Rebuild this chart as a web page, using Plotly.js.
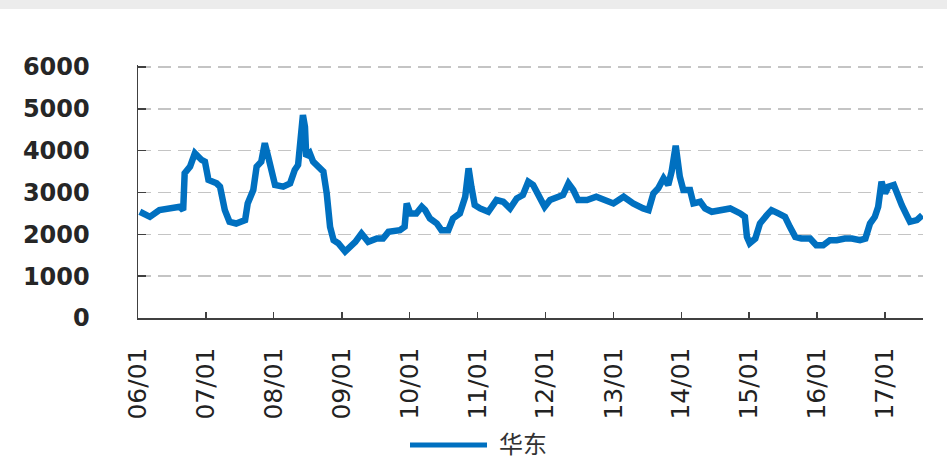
<!DOCTYPE html>
<html>
<head>
<meta charset="utf-8">
<script src="https://cdn.plot.ly/plotly-3.0.1.min.js"></script>
<style>
html,body{margin:0;padding:0;background:#fff;}
#chart{width:947px;height:460px;}
</style>
</head>
<body>
<div id="chart"></div>
<script>
// Series name
const seriesName = "华东";

// Dates of observations
const dates = [
"2006-01-11","2006-03-06","2006-04-26","2006-07-08","2006-08-14","2006-09-01","2006-09-09","2006-10-08","2006-11-03","2006-12-09","2006-12-27",
"2007-01-15","2007-02-28","2007-03-18","2007-04-13","2007-05-08","2007-06-13","2007-07-31","2007-08-14","2007-09-13","2007-10-01","2007-10-26","2007-11-14","2007-12-02","2007-12-20",
"2008-01-08","2008-02-21","2008-03-29","2008-04-23","2008-05-11","2008-06-06","2008-06-17","2008-06-24","2008-07-13","2008-07-31","2008-09-06","2008-09-24","2008-10-12","2008-10-30","2008-11-18","2008-12-13",
"2009-01-19","2009-02-14","2009-03-15","2009-04-17","2009-05-23","2009-07-09","2009-08-11","2009-09-09","2009-11-10","2009-12-05","2009-12-16",
"2010-01-04","2010-02-06","2010-03-07","2010-03-25","2010-04-20","2010-05-27","2010-06-21","2010-07-28","2010-08-22","2010-09-28","2010-10-27","2010-11-14","2010-11-29","2010-12-17",
"2011-01-15","2011-02-28","2011-04-13","2011-05-19","2011-06-25","2011-07-31","2011-09-02","2011-10-01","2011-10-27","2011-12-02","2011-12-28",
"2012-01-26","2012-02-28","2012-04-05","2012-05-04","2012-05-30","2012-06-25","2012-08-12","2012-10-01","2012-11-24",
"2013-01-01","2013-02-25","2013-04-17","2013-06-10","2013-07-09","2013-08-04","2013-08-30","2013-09-28","2013-10-23","2013-11-10","2013-12-02","2013-12-24",
"2014-01-12","2014-02-17","2014-03-07","2014-04-13","2014-05-09","2014-06-14","2014-07-28","2014-09-21","2014-11-14","2014-12-09","2014-12-20",
"2015-01-04","2015-02-03","2015-02-28","2015-04-06","2015-05-01","2015-06-07","2015-07-13","2015-08-08","2015-09-06","2015-10-09","2015-11-25","2015-12-28",
"2016-02-03","2016-03-10","2016-04-16","2016-05-30","2016-07-06","2016-08-19","2016-09-17","2016-10-12","2016-11-07","2016-11-25","2016-12-13",
"2017-01-01","2017-01-19","2017-02-17","2017-03-07","2017-04-01","2017-04-27","2017-05-15","2017-06-21","2017-07-06","2017-07-20"
];

// Price values (华东)
const values = [
2540,2420,2580,2620,2660,2580,3460,3620,3940,3780,3740,
3300,3220,3140,2580,2300,2260,2340,2740,3060,3620,3740,4180,3860,3540,
3180,3140,3220,3540,3660,4850,4570,3860,3940,3740,3580,3500,2980,2180,1860,1790,
1590,1700,1820,2020,1820,1900,1900,2060,2100,2180,2740,
2500,2500,2660,2580,2380,2260,2100,2100,2380,2500,2900,3580,3140,2700,
2620,2540,2820,2780,2620,2860,2940,3260,3180,2900,2660,
2820,2860,2940,3220,3060,2820,2820,2900,2820,
2740,2900,2740,2620,2580,2980,3100,3340,3180,3500,4120,3380,
3060,3060,2740,2780,2620,2540,2580,2620,2500,2420,1940,
1790,1900,2260,2460,2580,2500,2420,2180,1940,1900,1900,1740,
1740,1860,1860,1900,1900,1860,1900,2260,2420,2660,3260,
2980,3140,3180,2940,2700,2460,2300,2340,2400,2460
];

// Axis tick values / ranges
const yTicks = [0,1000,2000,3000,4000,5000,6000];
const yRange = [0, 6050];
const xRange = ["2006-01-01","2017-07-24"];

const lineColor = "#0070C0";

const trace = {
  type: "scatter",
  mode: "lines",
  x: dates,
  y: values,
  name: seriesName,
  line: {color: lineColor, width: 6.5},
  showlegend: false,
  hoverinfo: "x+y"
};

const layout = {
  width: 947,
  height: 460,
  margin: {l: 138, r: 24, t: 65, b: 142},
  paper_bgcolor: "#ffffff",
  plot_bgcolor: "#ffffff",
  showlegend: false,
  xaxis: {
    type: "date",
    range: xRange,
    tick0: "2006-01-01",
    dtick: "M12",
    tickformat: "%y/%m",
    tickangle: -90,
    ticks: "inside",
    ticklen: 6,
    tickwidth: 1.5,
    tickcolor: "#404040",
    showline: true,
    linecolor: "#404040",
    linewidth: 1.5,
    showgrid: false,
    zeroline: false,
    ticklabelstandoff: 18,
    tickfont: {family: "DejaVu Sans", size: 25, color: "#222222"}
  },
  yaxis: {
    range: yRange,
    tickvals: yTicks,
    ticktext: yTicks.map(String),
    ticks: "inside",
    ticklen: 8,
    tickwidth: 1.5,
    tickcolor: "#404040",
    showline: true,
    linecolor: "#404040",
    linewidth: 1.5,
    showgrid: true,
    gridcolor: "#c4c4c4",
    gridwidth: 1.5,
    griddash: "13px,7px",
    zeroline: false,
    ticklabelstandoff: 42,
    tickfont: {family: "DejaVu Sans", size: 24, color: "#262626", weight: "bold"}
  },
  shapes: [
    {type: "rect", xref: "paper", yref: "paper", x0: -0.2, x1: 1.1, y0: 1.221, y1: 1.35,
     fillcolor: "#ececec", line: {width: 0}, layer: "below"},
    {type: "line", xref: "paper", yref: "paper", x0: 0.3465, x1: 0.4446, y0: -0.502, y1: -0.502,
     line: {color: lineColor, width: 5}}
  ],
  annotations: [
    {xref: "paper", yref: "paper", x: 0.4586, y: -0.494, xanchor: "left", yanchor: "middle",
     text: seriesName, showarrow: false, borderpad: 0,
     font: {family: "Noto Sans CJK SC", size: 24, color: "#333333"}}
  ]
};

Plotly.newPlot("chart", [trace], layout, {displayModeBar: false, staticPlot: true});
</script>
</body>
</html>
